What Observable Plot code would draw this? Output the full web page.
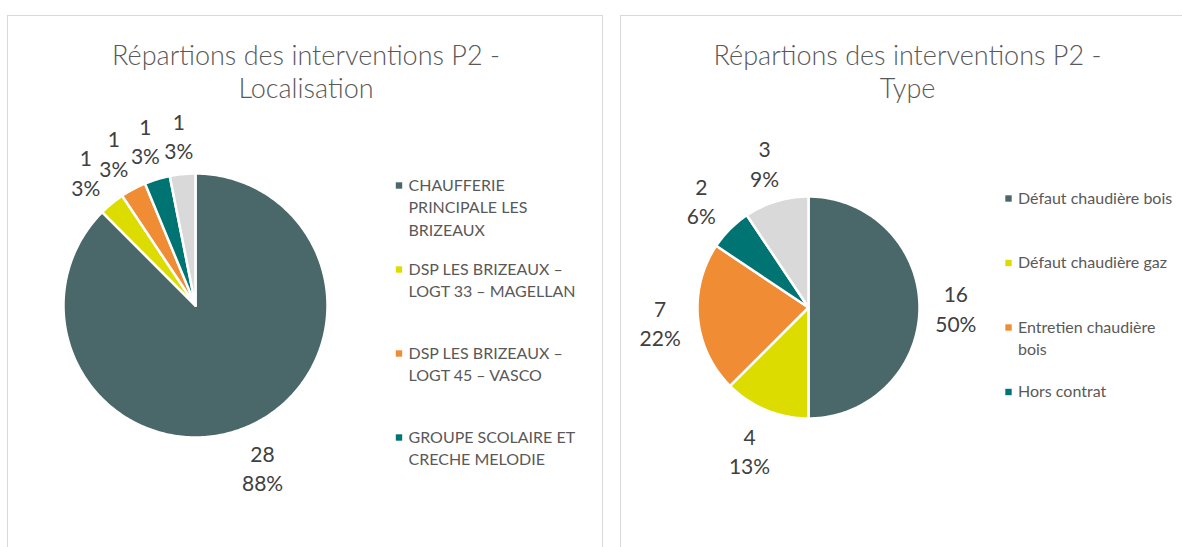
<!DOCTYPE html>
<html><head><meta charset="utf-8">
<script src="https://cdn.jsdelivr.net/npm/d3@7"></script>
<script src="https://cdn.jsdelivr.net/npm/@observablehq/plot@0.6"></script>
<style>body{margin:0;background:#fff;overflow:hidden}</style>
</head><body><div id="chart"></div>
<script>
// ---- data ----
const locCategories = ["CHAUFFERIE PRINCIPALE LES BRIZEAUX", "DSP LES BRIZEAUX – LOGT 33 – MAGELLAN", "DSP LES BRIZEAUX – LOGT 45 – VASCO", "GROUPE SCOLAIRE ET CRECHE MELODIE", "Autre"];
const locValues = [28, 1, 1, 1, 1];
const locLegendLines = [["CHAUFFERIE", "PRINCIPALE LES", "BRIZEAUX"], ["DSP LES BRIZEAUX –", "LOGT 33 – MAGELLAN"], ["DSP LES BRIZEAUX –", "LOGT 45 – VASCO"], ["GROUPE SCOLAIRE ET", "CRECHE MELODIE"]];
const locTitle = "Répartions des interventions P2 -\nLocalisation";

const typeCategories = ["Défaut chaudière bois", "Défaut chaudière gaz", "Entretien chaudière bois", "Hors contrat", "Autre"];
const typeValues = [16, 4, 7, 2, 3];
const typeLegendLines = [["Défaut chaudière bois"], ["Défaut chaudière gaz"], ["Entretien chaudière", "bois"], ["Hors contrat"]];
const typeTitle = "Répartions des interventions P2 -\nType";

const sliceColors = ["#4a6869", "#dcdc00", "#f08c33", "#007373", "#d9d9d9"];

// ---- layout ----
const W = 1182, H = 547;
const FONT = "Lato, 'Open Sans', sans-serif";
const labelFs = 21, gap = 19, labelHalfH = 19;
const panels = [
  {x1: 7.5, x2: 602.5, y1: 15.5, y2: 600},
  {x1: 620.5, x2: 1300, y1: 15.5, y2: 600}
];
const charts = [
  {name: "loc", categories: locCategories, values: locValues, legend: locLegendLines, title: locTitle,
   cx: 195, cy: 305, r: 132, titleX: 305.5, titleY: 70.5, legX: 398.5, legY: 185, legStep: 84},
  {name: "type", categories: typeCategories, values: typeValues, legend: typeLegendLines, title: typeTitle,
   cx: 808, cy: 307, r: 111, titleX: 907, titleY: 70.5, legX: 1008, legY: 198, legStep: 64.5}
];

const slicePts = [], labels = [], titles = [], legText = [], legMarks = [];
for (const c of charts) {
  const total = d3.sum(c.values);
  const arcs = d3.pie().sort(null).value(d => d)(c.values);
  arcs.forEach((a, i) => {
    const key = c.name + i;
    const color = sliceColors[i];
    const n = Math.max(2, Math.ceil((a.endAngle - a.startAngle) / (Math.PI / 180)));
    slicePts.push({key, color, x: c.cx, y: c.cy});
    for (let k = 0; k <= n; k++) {
      const t = a.startAngle + (a.endAngle - a.startAngle) * k / n;
      slicePts.push({key, color, x: c.cx + c.r * Math.sin(t), y: c.cy - c.r * Math.cos(t)});
    }
    slicePts.push({key, color, x: c.cx, y: c.cy});
    const mid = (a.startAngle + a.endAngle) / 2;
    const dx = Math.sin(mid), dy = -Math.cos(mid);
    const pct = Math.round(c.values[i] / total * 100) + "%";
    const hw = Math.max(String(c.values[i]).length, pct.length) * 0.55 * labelFs / 2;
    const dist = c.r + gap + Math.abs(dx) * hw + Math.abs(dy) * labelHalfH;
    labels.push({x: c.cx + dx * dist, y: c.cy + dy * dist, text: c.values[i] + "\n" + pct});
  });
  titles.push({x: c.titleX, y: c.titleY, text: c.title});
  c.legend.forEach((lines, i) => {
    const y0 = c.legY + i * c.legStep;
    legMarks.push({x: c.legX, y: y0, color: sliceColors[i]});
    lines.forEach((t, j) => legText.push({x: c.legX + 9.5, y: y0 + j * 22.5, text: t}));
  });
}

const plot = Plot.plot({
  width: W, height: H,
  margin: 0,
  x: {domain: [0, W], range: [0, W], axis: null},
  y: {domain: [0, H], range: [0, H], axis: null},
  color: {type: "identity"},
  style: {fontFamily: FONT, background: "#fff"},
  marks: [
    Plot.rect(panels, {x1: "x1", x2: "x2", y1: "y1", y2: "y2", fill: "none", stroke: "#d9d9d9", strokeWidth: 1}),
    Plot.line(slicePts, {x: "x", y: "y", z: "key", fill: "color", stroke: "#fff", strokeWidth: 2.5, strokeLinejoin: "round"}),
    Plot.text(labels, {x: "x", y: "y", text: "text", fontSize: labelFs, lineHeight: 1.4, fill: "#404040", fontFamily: FONT}),
    Plot.text(titles, {x: "x", y: "y", text: "text", fontSize: 27, fontWeight: 300, lineHeight: 1.22, fill: "#595959", fontFamily: FONT}),
    Plot.dot(legMarks, {x: "x", y: "y", fill: "color", symbol: "square", r: 3.6, stroke: null}),
    Plot.text(legText, {x: "x", y: "y", text: "text", textAnchor: "start", fontSize: 16, fill: "#595959", fontFamily: FONT})
  ]
});
document.getElementById("chart").appendChild(plot);
</script>
</body></html>
